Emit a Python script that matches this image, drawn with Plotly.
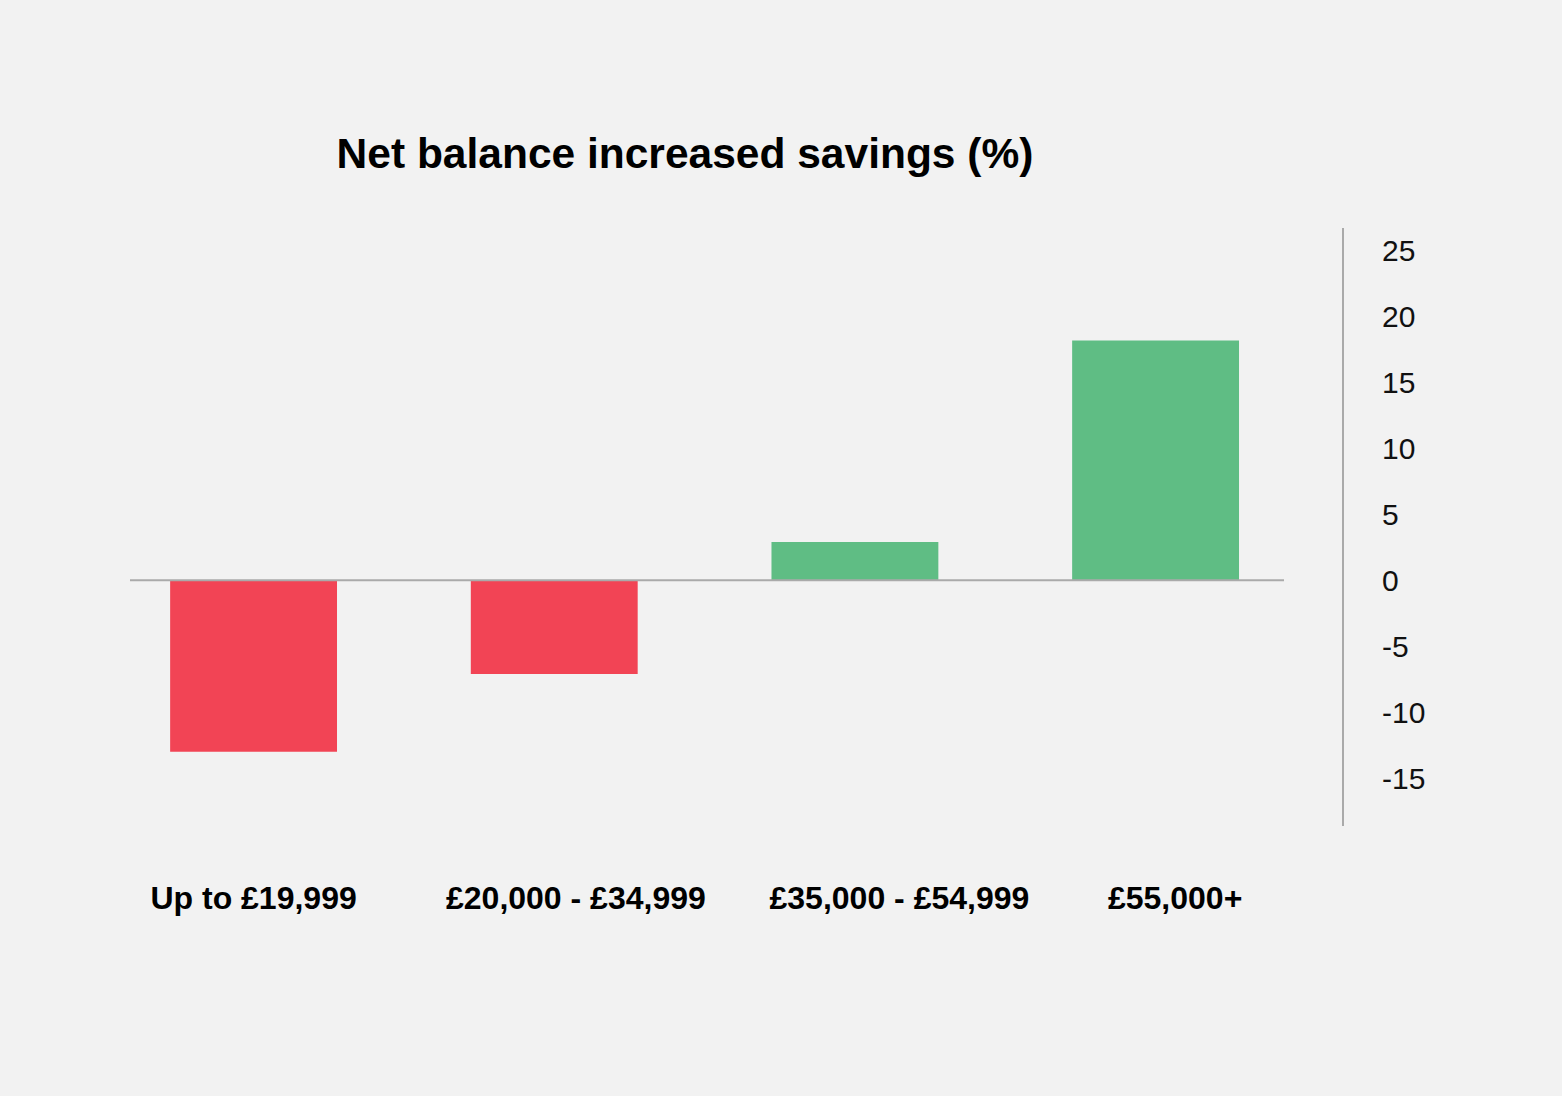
import plotly.graph_objects as go

categories = ["Up to £19,999", "£20,000 - £34,999", "£35,000 - £54,999", "£55,000+"]
values = [-13.0, -7.1, 2.9, 18.2]
y_tickvals = [-15, -10, -5, 0, 5, 10, 15, 20, 25]
y_ticktext = ["-15", "-10", "-5", "0", "5", "10", "15", "20", "25"]

RED = "#F24455"
GREEN = "#5FBD84"
BG = "#F2F2F2"
FONT = "Liberation Sans, Arial, sans-serif"

# small horizontal nudges of category labels (in category units), as in the reference
label_nudge = [0.0, 0.072, 0.148, 0.065]

colors = [GREEN if v >= 0 else RED for v in values]
x_idx = list(range(len(categories)))
x_range = [-0.411, 3.62]

fig = go.Figure()
fig.add_trace(go.Bar(
    x=x_idx, y=values,
    marker=dict(color=colors, line=dict(width=0)),
    width=0.555,
    hoverinfo="skip",
))
# invisible trace to activate label axis
fig.add_trace(go.Scatter(x=[0], y=[0], xaxis="x2", mode="markers",
                         marker=dict(opacity=0), hoverinfo="skip", showlegend=False))

fig.update_layout(
    width=1562, height=1096,
    paper_bgcolor=BG, plot_bgcolor=BG,
    margin=dict(l=130, r=220, t=228, b=270),
    showlegend=False,
    title=dict(
        text="<b>Net balance increased savings (%)</b>",
        font=dict(family=FONT, size=42.5, color="#000000"),
        x=685 / 1562, xanchor="center",
        y=1 - 153 / 1096, yanchor="middle",
    ),
    xaxis=dict(
        range=x_range, showticklabels=False, showgrid=False, zeroline=False,
        showline=False, ticks="", fixedrange=True,
    ),
    xaxis2=dict(
        overlaying="x", anchor="y", side="bottom", range=x_range,
        tickmode="array",
        tickvals=[i + d for i, d in zip(x_idx, label_nudge)],
        ticktext=[f"<b>{c}</b>" for c in categories],
        tickfont=dict(family=FONT, size=32, color="#000000"),
        showgrid=False, zeroline=False, showline=False, ticks="",
        ticklabelstandoff=50,
    ),
    yaxis=dict(
        side="right", range=[-18.64, 26.73],
        tickmode="array", tickvals=y_tickvals, ticktext=y_ticktext,
        tickfont=dict(family=FONT, size=30, color="#111111"),
        showgrid=False, zeroline=False,
        showline=True, linecolor="#AAAAAA", linewidth=2,
        ticks="", ticklabelstandoff=32,
    ),
    shapes=[dict(
        type="line", xref="paper", yref="y",
        x0=0, x1=(1284 - 130) / 1212, y0=0, y1=0,
        line=dict(color="#AAAAAA", width=2), layer="above",
    )],
)

fig.write_html(
    "out.html",
    config={"displayModeBar": False},
    post_script="document.body.style.margin='0';document.body.style.background='#F2F2F2';",
)
